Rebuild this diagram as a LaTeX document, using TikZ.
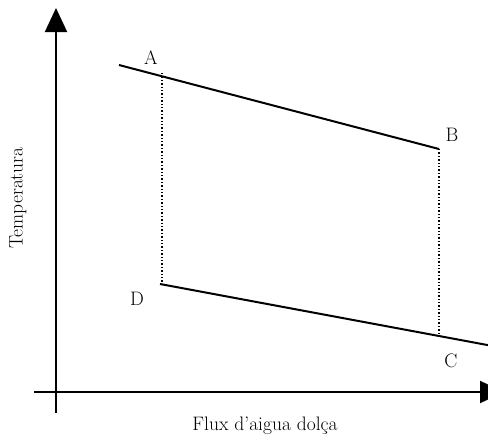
\documentclass[tikz,border=0pt]{standalone}
\usetikzlibrary{arrows.meta}

\tikzset{
    axis/.style={line width=2pt, -{Triangle[width=22pt,length=24pt]}},
    seg/.style={line width=2pt},
    guide/.style={line width=1.4pt, dotted},
    lbl/.style={font=\fontsize{19.5}{22}\selectfont, inner sep=0pt}
}

\begin{document}
\begin{tikzpicture}[x=1pt, y=-1pt]
    \useasboundingbox (0,0) rectangle (488,437);
    \clip (0,0) rectangle (488,437);

    % 1. Eixos
    \coordinate (x0) at (34,392);
    \coordinate (x1) at (504,392);
    \coordinate (y0) at (56,413);
    \coordinate (y1) at (56,8);
    \draw[axis] (x0) -- (x1);
    \draw[axis] (y0) -- (y1);
    \node[lbl, rotate=90] (ylab) at (18,198) {Temperatura};
    \node[lbl] (xlab) at (265,426) {Flux d'aigua dolça};

    % 2. Punts
    \coordinate (p) at (119,65);
    \coordinate (A) at (162,73);
    \coordinate (B) at (439,149);
    \coordinate (D) at (160,284);
    \coordinate (C) at (439,336);
    \coordinate (q) at (490,345.5);

    % 3. Rectes
    \draw[seg] (p) -- (B);
    \draw[seg] (D) -- (q);

    % 4. Linies de punts
    \draw[guide] (A) -- (162,284);
    \draw[guide] (B) -- (C);

    % 5. Etiquetes
    \node[lbl] (la) at (151,58) {A};
    \node[lbl] (lb) at (452,135) {B};
    \node[lbl] (lc) at (451,361) {C};
    \node[lbl] (ld) at (137,299) {D};
\end{tikzpicture}
\end{document}
